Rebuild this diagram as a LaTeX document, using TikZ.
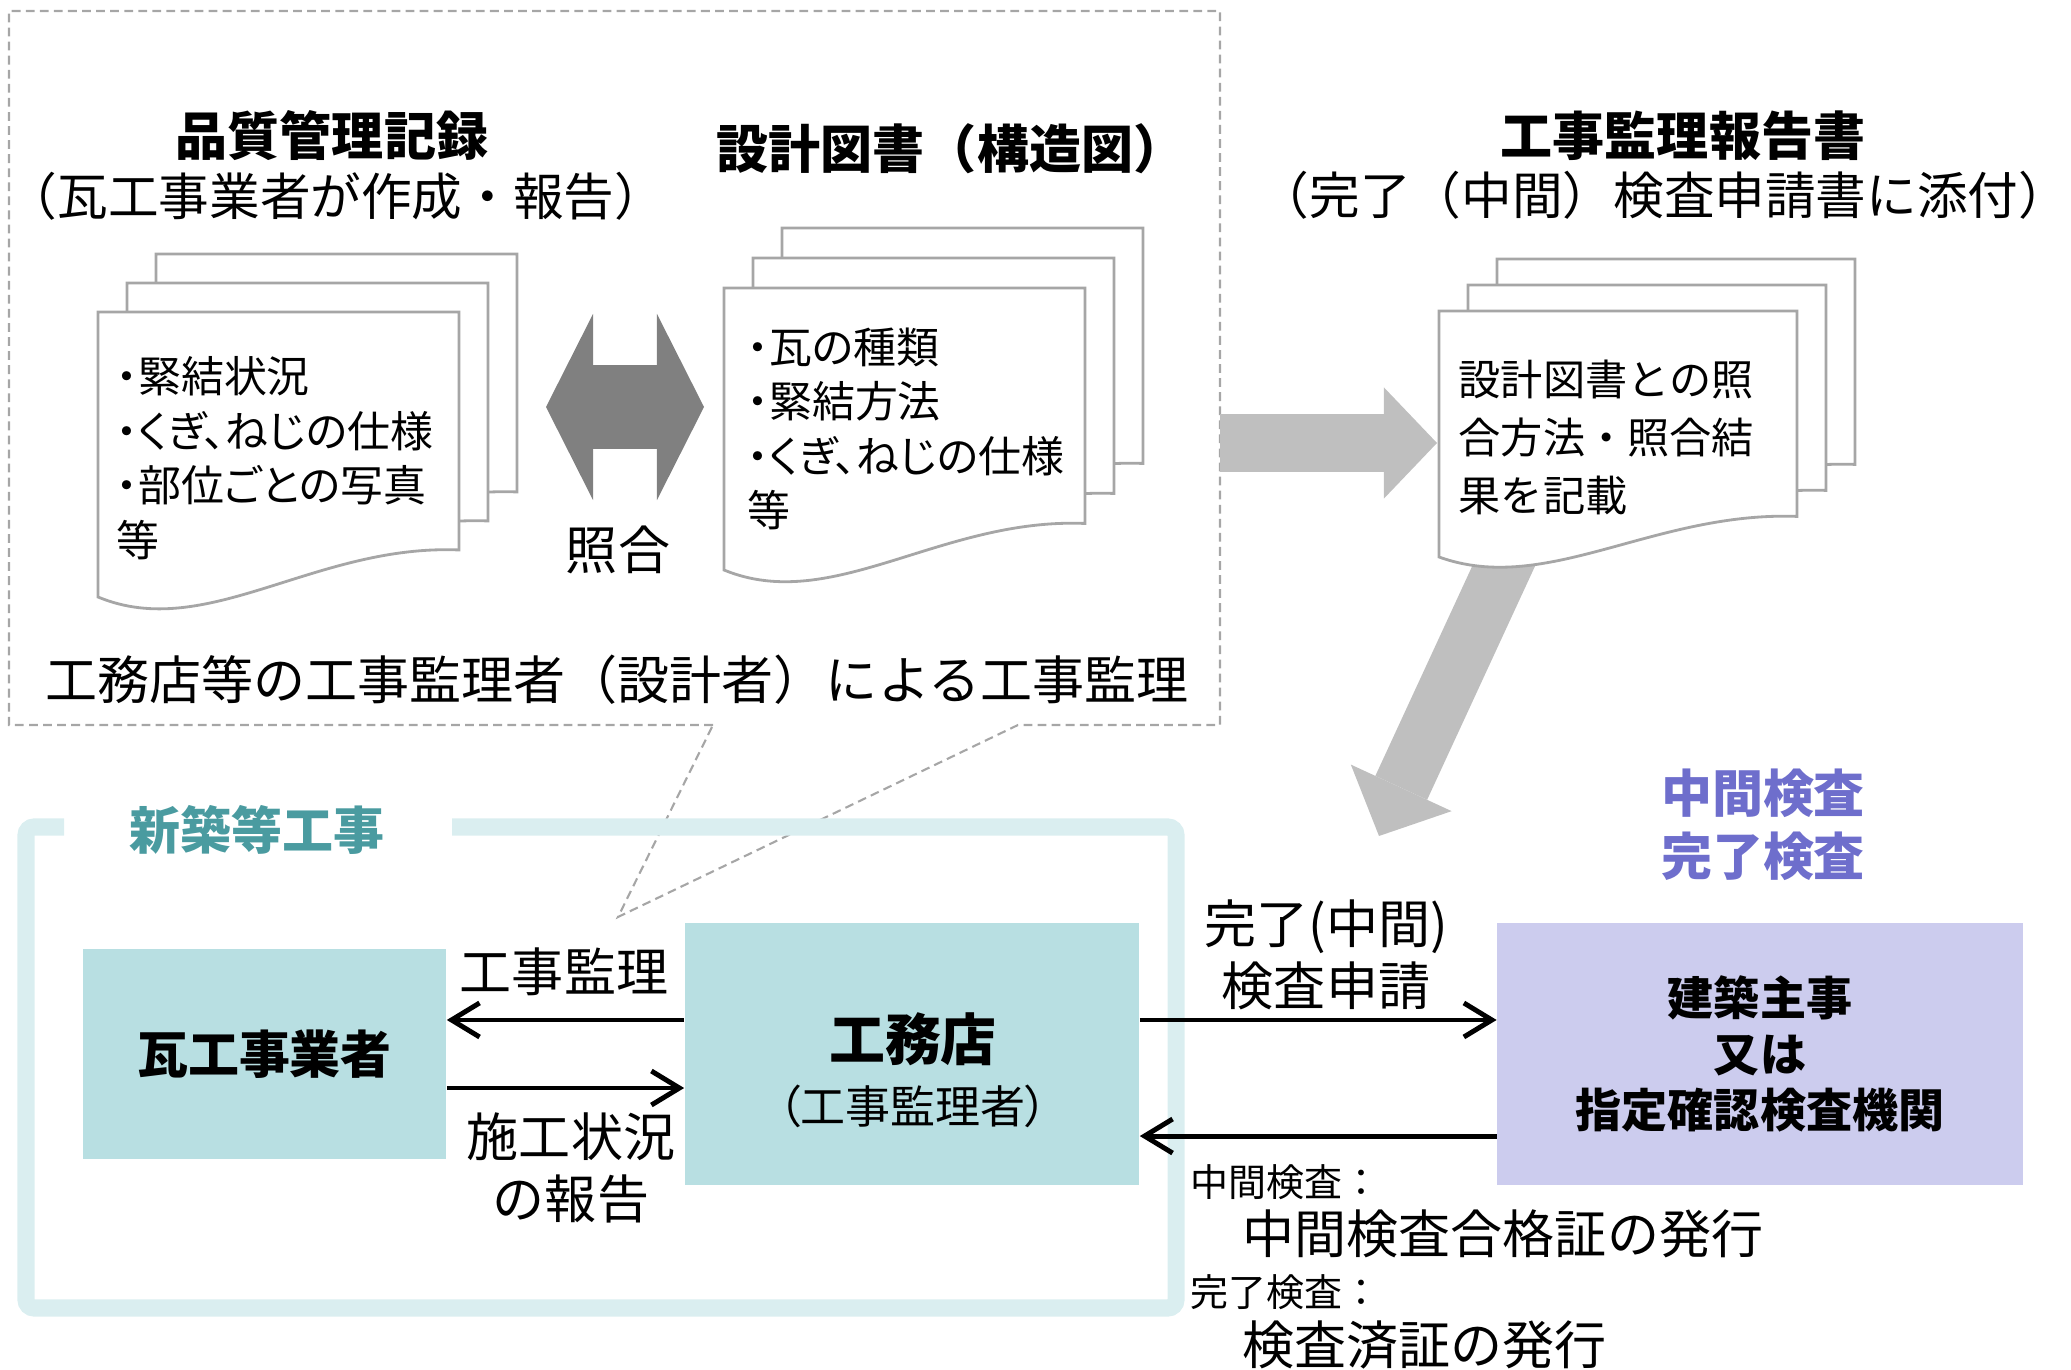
\documentclass[tikz,border=0pt]{standalone}
\usepackage{fontspec}
\setmainfont{Noto Sans CJK JP}
\newfontfamily\propfont[RawFeature=+palt]{Noto Sans CJK JP}
\usetikzlibrary{arrows.meta}
\tikzset{>={Straight Barb[length=0.28cm,width=0.34cm]}}

\definecolor{calloutgray}{HTML}{A6A6A6}
\definecolor{docgray}{HTML}{A6A6A6}
\definecolor{shogogray}{HTML}{808080}
\definecolor{arrowgray}{HTML}{BFBFBF}
\definecolor{framecol}{HTML}{DAEEF0}
\definecolor{tealtext}{HTML}{4A9BA0}
\definecolor{boxteal}{HTML}{B8DFE2}
\definecolor{boxlavender}{HTML}{CCCCEE}
\definecolor{kensapurple}{HTML}{6E6ECC}

\tikzset{
  callout/.style={draw=calloutgray, line width=0.6pt, dash pattern=on 2.5pt off 1.5pt},
  docline/.style={draw=docgray, fill=white, line width=0.8pt},
  doctext/.style={anchor=north west, inner sep=0pt, align=left, font=\propfont\fontsize{12.2pt}{15.5pt}\selectfont},
  reporttext/.style={anchor=north west, inner sep=0pt, align=left, font=\fontsize{12pt}{16.5pt}\selectfont},
  heading/.style={inner sep=0pt, font=\bfseries\fontsize{14.8pt}{18pt}\selectfont},
  subheading/.style={inner sep=0pt, font=\fontsize{14.8pt}{18pt}\selectfont},
  sidenote/.style={inner sep=0pt, font=\fontsize{14.4pt}{18pt}\selectfont},
  bigarrow/.style={draw=arrowgray, line width=0.57cm, -{Triangle[length=0.53cm,width=1.11cm,line width=0pt]}},
  shogoarrow/.style={draw=shogogray, line width=0.83cm, arrows={Triangle[length=0.47cm,width=1.86cm,line width=0pt]-Triangle[length=0.47cm,width=1.86cm,line width=0pt]}},
  kojiframe/.style={draw=framecol, line width=0.17cm, rounded corners=0.08cm},
  sectionlabel/.style={inner sep=0pt, text=tealtext, font=\bfseries\fontsize{14.5pt}{18pt}\selectfont},
  firmbox/.style={fill=boxteal, inner sep=0pt, font=\bfseries\fontsize{14.5pt}{18pt}\selectfont},
  kensabox/.style={fill=boxlavender, inner sep=0pt, align=center, font=\bfseries\fontsize{13.1pt}{15.9pt}\selectfont},
  flowline/.style={line width=1.4pt},
  flowtext/.style={inner sep=0pt, align=center, font=\fontsize{14.8pt}{17.6pt}\selectfont},
  smallnote/.style={anchor=west, inner sep=0pt, font=\fontsize{10.8pt}{13pt}\selectfont},
  resultnote/.style={anchor=west, inner sep=0pt, font=\fontsize{14.8pt}{18pt}\selectfont},
  kensatype/.style={inner sep=0pt, align=center, text=kensapurple, font=\bfseries\fontsize{14.5pt}{17.9pt}\selectfont}
}

% One sheet with a wavy lower edge: x, y, width, height.
\newcommand{\docpage}[4]{%
  \draw[docline] (#1,#2) -- ({#1+#3},#2) -- ({#1+#3},{#2+0.835*#4})
    .. controls ({#1+0.6*#3},{#2+0.814*#4}) and ({#1+0.3*#3},{#2+1.158*#4}) .. (#1,{#2+#4}) -- cycle;}
% Three sheets, the front one at x, y.
\newcommand{\docstack}[5]{%
  \foreach \k in {2,1,0} {\docpage{#1+29*\k}{#2-#5*\k}{#3}{#4}}}

\begin{document}
\begin{tikzpicture}[x=0.01cm, y=-0.01cm]
    \useasboundingbox (0,0) rectangle (2071,1370);

    % Draw the callout of the supervision.
    \coordinate (tip) at (618,917);
    \draw[callout] (713,725) -- (9,725) -- (9,11) -- (1220,11) -- (1220,725) -- (1018,725) -- (tip) -- cycle;

    % Draw the big gray arrows.
    \coordinate (callout-e) at (1220,443);
    \coordinate (report-w) at (1437,443);
    \coordinate (report-s) at (1512,548);
    \coordinate (kensa-n) at (1379,836);
    \draw[bigarrow] (callout-e) -- (report-w);
    \draw[bigarrow] (report-s) -- (kensa-n);

    % Draw the quality record.
    \node[heading] (kirokutitle) at (332,136) {品質管理記録};
    \node[sidenote] (kirokusub) at (336,196) {（瓦工事業者が作成・報告）};
    \docstack{98}{312}{361}{285}{29}
    \node[doctext] (kirokutext) at (116,356) {・緊結状況\\・くぎ、ねじの仕様\\・部位ごとの写真\\等};

    % Draw the design drawings.
    \node[heading] (sekkeititle) at (951,149) {設計図書（構造図）};
    \docstack{724}{288}{361}{282}{30}
    \node[doctext] (sekkeitext) at (747,327) {・瓦の種類\\・緊結方法\\・くぎ、ねじの仕様\\等};

    % Draw the check between both.
    \coordinate (shogo-w) at (546,407);
    \coordinate (shogo-e) at (704,407);
    \draw[shogoarrow] (shogo-w) -- (shogo-e);
    \node[subheading] (shogo) at (618,550) {照合};
    \node[subheading] (kanritext) at (617,680) {工務店等の工事監理者（設計者）による工事監理};

    % Draw the report.
    \node[heading] (houkokutitle) at (1683,136) {工事監理報告書};
    \node[sidenote] (houkokusub) at (1664,195) {（完了（中間）検査申請書に添付）};
    \docstack{1439}{311}{358}{246}{26}
    \node[reporttext] (houkokutext) at (1458,359) {設計図書との照\\合方法・照合結\\果を記載};

    % Draw the construction frame.
    \draw[kojiframe] (64,827) -- (26,827) -- (26,1308) -- (1176,1308) -- (1176,827) -- (452,827);
    \node[sectionlabel] (shinchiku) at (257,830) {新築等工事};

    % Draw the parties.
    \node[firmbox, minimum width=3.63cm, minimum height=2.09cm] (kawara) at (264.5,1054) {瓦工事業者};
    \node[firmbox, minimum width=4.54cm, minimum height=2.62cm] (koumuten) at (912,1054) {};
    \node[inner sep=0pt, font=\bfseries\fontsize{15.9pt}{18pt}\selectfont] (koumutenname) at (913,1039) {工務店};
    \node[inner sep=0pt, font=\propfont\fontsize{12.8pt}{15pt}\selectfont] (koumutenrole) at (913,1106) {（工事監理者）};
    \node[kensabox, minimum width=5.25cm, minimum height=2.62cm] (kensa) at (1760,1054) {建築主事\\又は\\指定確認検査機関};
    \node[kensatype] (kensakind) at (1763,825) {中間検査\\完了検査};

    % Draw the flows.
    \draw[->, flowline] ([yshift=0.34cm]koumuten.west) -- ([yshift=0.34cm]kawara.east);
    \draw[->, flowline] ([yshift=-0.34cm]kawara.east) -- ([yshift=-0.34cm]koumuten.west);
    \draw[->, flowline] ([yshift=0.34cm]koumuten.east) -- ([yshift=0.34cm]kensa.west);
    \draw[->, flowline] ([yshift=-0.82cm]kensa.west) -- ([yshift=-0.82cm]koumuten.east);
    \node[flowtext] (kanrilabel) at (564,972) {工事監理};
    \node[flowtext] (jokyolabel) at (571,1168) {施工状況\\の報告};
    \node[flowtext] (shinseilabel) at (1326,955) {完了(中間)\\検査申請};

    % Write what is issued.
    \node[smallnote] (chukannote) at (1190,1182) {中間検査：};
    \node[resultnote] (chukanresult) at (1242,1234) {中間検査合格証の発行};
    \node[smallnote] (kanryonote) at (1190,1292) {完了検査：};
    \node[resultnote] (kanryoresult) at (1242,1345) {検査済証の発行};
\end{tikzpicture}
\end{document}
